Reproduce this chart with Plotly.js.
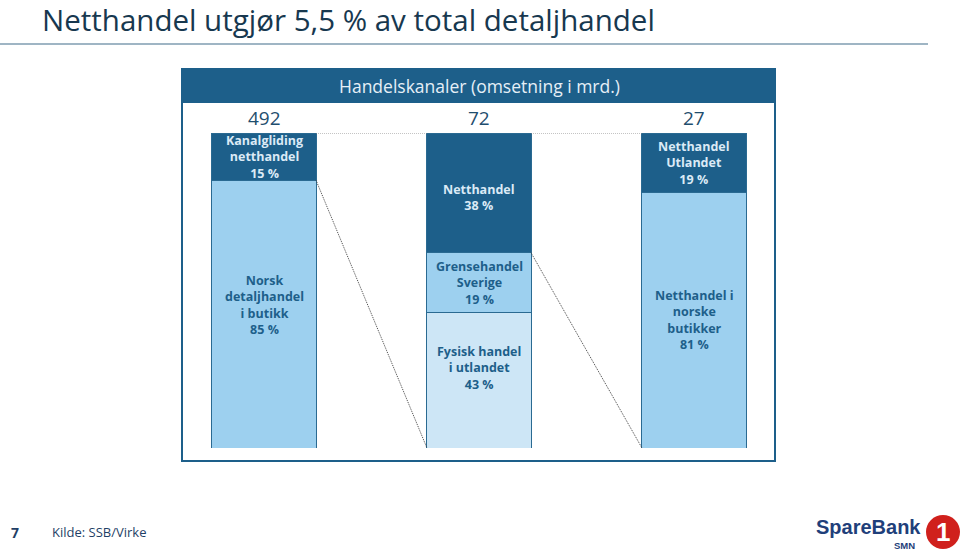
<!DOCTYPE html>
<html>
<head>
<meta charset="utf-8">
<script src="https://cdn.plot.ly/plotly-3.0.1.min.js"></script>
<style>
  html, body { margin: 0; padding: 0; background: #fff; }
  #chart { width: 960px; height: 554px; }
</style>
</head>
<body>
<div id="chart"></div>
<script>
// omsetning i mrd. per kanal
var totals = [492, 72, 27];
var bars = [0, 1, 2];

// andeler (prosent), nederst -> øverst
var bottomVals = [85, 43, 81];
var midVals = [0, 19, 0];
var topVals = [15, 38, 19];

var bottomNames = ['Norsk<br>detaljhandel<br>i butikk', 'Fysisk handel<br>i utlandet', 'Netthandel i<br>norske<br>butikker'];
var midNames = ['', 'Grensehandel<br>Sverige', ''];
var topNames = ['Kanalgliding<br>netthandel', 'Netthandel', 'Netthandel<br>Utlandet'];

var dark = '#1d5f8a';
var light = '#9dd0ef';
var pale = '#cde6f6';
var edge = '#2a6a92';
var FONT = '"Open Sans", sans-serif';

var bottomColors = [light, pale, light];
var bottomShift = [9, 12, 0];

var barWidth = 0.484;

var traces = [
  {x: bars, y: bottomVals, type: 'bar', marker: {color: bottomColors, line: {color: edge, width: 1}}, hoverinfo: 'skip'},
  {x: bars, y: midVals, type: 'bar', marker: {color: light, line: {color: edge, width: 1}}, hoverinfo: 'skip'},
  {x: bars, y: topVals, type: 'bar', marker: {color: dark, line: {color: edge, width: 1}}, hoverinfo: 'skip'}
];
traces.forEach(function(t) { t.width = barWidth; });

var annotations = [];
var shapes = [];

function label(x, y, text, color, yshift) {
  annotations.push({
    xref: 'x', yref: 'y', x: x, y: y, text: text, showarrow: false,
    yshift: yshift || 0,
    font: {family: FONT, size: 12.5, color: color, weight: 'bold'}
  });
}

for (var i = 0; i < bars.length; i++) {
  var b = bottomVals[i], m = midVals[i], t = topVals[i];
  label(bars[i], b / 2, bottomNames[i] + '<br>' + b + ' %', dark, bottomShift[i]);
  if (m > 0) label(bars[i], b + m / 2, midNames[i] + '<br>' + m + ' %', dark, 0);
  label(bars[i], b + m + t / 2, topNames[i] + '<br>' + t + ' %', '#dbeaf6', i === 1 ? -5 : 0);
  // totalsum over søylen
  annotations.push({
    xref: 'x', yref: 'y', x: bars[i], y: 100, yanchor: 'bottom', yshift: 0,
    text: String(totals[i]), showarrow: false,
    font: {family: FONT, size: 19, color: '#1f4e6e'}
  });
}

// stiplede hjelpelinjer mellom søylene
var half = barWidth / 2;
for (var i = 0; i < bars.length - 1; i++) {
  var fromY = bottomVals[i] + midVals[i];
  shapes.push({type: 'line', xref: 'x', yref: 'y', x0: bars[i] + half, x1: bars[i + 1] - half,
    y0: 100, y1: 100, line: {color: '#888', width: 1, dash: '1px,1px'}});
  shapes.push({type: 'line', xref: 'x', yref: 'y', x0: bars[i] + half, x1: bars[i + 1] - half,
    y0: fromY, y1: 0, line: {color: '#444', width: 1, dash: '1px,1px'}});
}

// ramme + overskrift
shapes.push({type: 'rect', xref: 'paper', yref: 'paper', x0: 182 / 960, x1: 775 / 960,
  y0: 1 - 461 / 554, y1: 1 - 69 / 554, line: {color: dark, width: 2}, fillcolor: 'rgba(0,0,0,0)', layer: 'below'});
shapes.push({type: 'rect', xref: 'paper', yref: 'paper', x0: 182 / 960, x1: 775 / 960,
  y0: 1 - 102 / 554, y1: 1 - 69 / 554, line: {color: dark, width: 2}, fillcolor: dark, layer: 'below'});
shapes.push({type: 'line', xref: 'paper', yref: 'paper', x0: 0, x1: 928 / 960,
  y0: 1 - 44 / 554, y1: 1 - 44 / 554, line: {color: '#7f9db0', width: 1.5}});
// logo-sirkel
shapes.push({type: 'circle', xref: 'paper', yref: 'paper', x0: 926 / 960, x1: 960 / 960,
  y0: 1 - 549 / 554, y1: 1 - 515 / 554, line: {color: '#d0201c', width: 0}, fillcolor: '#d0201c'});

function paperText(x, y, text, size, color, opts) {
  var a = {xref: 'paper', yref: 'paper', x: x / 960, y: 1 - y / 554, text: text, showarrow: false,
    xanchor: 'left', yanchor: 'middle', font: {family: FONT, size: size, color: color}};
  Object.assign(a, opts || {});
  annotations.push(a);
}

paperText(40, 20, 'Netthandel utgjør 5,5 % av total detaljhandel', 29.5, '#17384f');
paperText(479, 86, 'Handelskanaler (omsetning i mrd.)', 17.5, '#e6eff7', {xanchor: 'center'});
paperText(9, 532, '<b>7</b>', 14, '#1f3f66');
paperText(50, 532, 'Kilde: SSB/Virke', 13, '#1f3f66');
paperText(814, 527, '<b>SpareBank</b>', 20, '#1f3f7a', {font: {family: '"Liberation Sans", sans-serif', size: 20, color: '#1f3f7a'}});
paperText(892, 545, '<b>SMN</b>', 9.5, '#1f3f7a', {font: {family: '"Liberation Sans", sans-serif', size: 9.5, color: '#1f3f7a'}});
paperText(943, 532, '<b>1</b>', 24, '#fff', {xanchor: 'center', font: {family: '"Liberation Sans", sans-serif', size: 26, color: '#fff'}});

var layout = {
  width: 960, height: 554,
  margin: {l: 0, r: 0, t: 0, b: 0},
  paper_bgcolor: '#fff', plot_bgcolor: 'rgba(0,0,0,0)',
  barmode: 'stack', showlegend: false,
  xaxis: {range: [-0.5, 2.5], domain: [156.5 / 960, 801.5 / 960], visible: false, fixedrange: true},
  yaxis: {range: [0, 100], domain: [106 / 554, 421 / 554], visible: false, fixedrange: true},
  annotations: annotations,
  shapes: shapes
};

Plotly.newPlot('chart', traces, layout, {displayModeBar: false, staticPlot: true});
</script>
</body>
</html>
